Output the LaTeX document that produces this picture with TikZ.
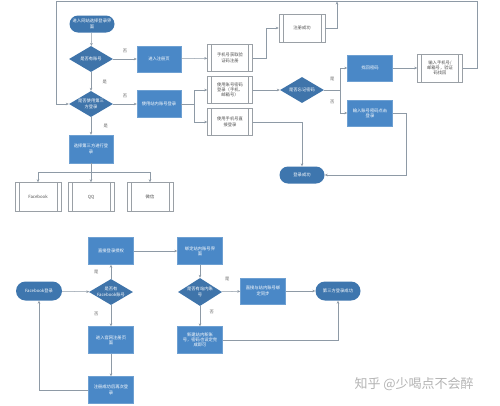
\documentclass[tikz,border=0pt]{standalone}
\usepackage{fontspec}
\setmainfont{Noto Sans CJK SC}
\usetikzlibrary{shapes.geometric,arrows.meta,calc}
\definecolor{boxblue}{HTML}{4A88C7}
\definecolor{diablue}{HTML}{3F74AA}
\definecolor{termblue}{HTML}{3E76AE}
\definecolor{linegray}{HTML}{8E9AA6}
\definecolor{subgray}{HTML}{9AA0A6}
\definecolor{wmgray}{HTML}{B4B4B4}
\tikzset{
  every node/.style={font=\fontsize{4.3}{5.3}\selectfont, align=center},
  procbox/.style={rectangle, fill=boxblue, draw=boxblue!80!white, text=white, minimum width=45pt, minimum height=27pt, inner sep=1pt},
  subbox/.style={rectangle, fill=white, draw=subgray, line width=0.5pt, text=black!70, minimum width=45pt, minimum height=27pt, inner sep=1pt,
    path picture={
      \draw[subgray, line width=0.5pt] ([xshift=4pt]path picture bounding box.north west) -- ([xshift=4pt]path picture bounding box.south west);
      \draw[subgray, line width=0.5pt] ([xshift=-4pt]path picture bounding box.north east) -- ([xshift=-4pt]path picture bounding box.south east);
    }},
  termbox/.style={rectangle, rounded corners=8.5pt, fill=termblue, text=white, minimum width=45pt, minimum height=17pt, inner sep=1pt},
  diabox/.style={diamond, fill=diablue, minimum width=44pt, minimum height=26pt, inner sep=0pt},
  diatext/.style={text=white},
  conn/.style={draw=linegray, line width=0.5pt},
  arr/.style={conn, -{Stealth[length=3pt,width=2.6pt]}},
  lab/.style={text=black!60, font=\fontsize{4.3}{5}\selectfont},
}
\begin{document}
\begin{tikzpicture}[x=1pt,y=-1pt]
\useasboundingbox (0,0) rectangle (500,405);
\fill[white] (0,0) rectangle (500,405);

% ---------- top flow ----------
\node[termbox] (start) at (92,24) {进入网站选择登录界\\面};
\node[diabox] (d1) at (91,59) {};
\node[diatext] at (d1) {是否有账号};
\node[procbox, minimum width=44pt, minimum height=26pt] (reg) at (159,59) {进入注册页};
\node[subbox] (sub1) at (230,58) {手机号获取验\\证码注册};
\node[subbox, minimum width=46pt, minimum height=28pt] (regok) at (302,28) {注册成功};
\node[diabox] (d2) at (91,104) {};
\node[diatext] at (d2) {是否使用第三\\方登录};
\node[procbox, minimum width=44pt] (inner) at (159,104) {使用站内账号登录};
\node[subbox] (sub2) at (230,90) {使用账号密码\\登录（手机、\\邮箱号）};
\node[subbox] (sub3) at (230,122) {使用手机号直\\接登录};
\node[diabox] (d3) at (302,90) {};
\node[diatext] at (d3) {是否忘记密码};
\node[procbox, minimum height=26pt] (find) at (370,68) {找回密码};
\node[subbox, minimum height=28pt] (sub4) at (440,68) {输入手机号/\\邮箱号，验证\\码找回};
\node[procbox, minimum height=26pt] (input) at (370,113) {输入账号密码点击\\登录};
\node[termbox] (ok) at (302,175) {登录成功};
\node[procbox, minimum width=44pt, minimum height=28pt] (third) at (91,149) {选择第三方进行登\\录};
\node[subbox, minimum width=46pt, minimum height=29pt] (fb) at (38,197) {Facebook};
\node[subbox, minimum width=46pt, minimum height=29pt] (qq) at (91,197) {QQ};
\node[subbox, minimum width=46pt, minimum height=29pt] (wx) at (150,197) {微信};

\coordinate (topL) at (56,1.5);
\coordinate (topR) at (477,1.5);
\coordinate (topM) at (337,1.5);

\draw[arr] (start) -- (d1);
\draw[arr] (d1) -- (reg) node[lab, pos=0.5, above=3pt] {否};
\draw[arr] (reg) -- (sub1);
\draw[arr] (sub1.east) -- ++(13,0) |- (regok.west);
\draw[arr] (regok.east) -| (topM);
\draw[arr] (sub4.east) -| (topR) -- (topL) |- (d2.west);
\draw[arr] (d1) -- (d2) node[lab, pos=0.5, right=8pt] {是};
\draw[arr] (d2) -- (inner) node[lab, pos=0.5, above=3pt] {否};
\coordinate (split1) at (194,104);
\draw[conn] (inner.east) -- (split1);
\draw[arr] (split1) |- (sub2.west);
\draw[arr] (split1) |- (sub3.west);
\draw[arr] (sub2) -- (d3);
\coordinate (split2) at (340,90);
\draw[conn] (d3.east) -- (split2);
\draw[arr] (split2) |- (find.west) node[lab, pos=0.25, left=2pt] {是};
\draw[arr] (split2) |- (input.west) node[lab, pos=0.25, left=2pt] {否};
\draw[arr] (find) -- (sub4);
\draw[arr] (sub3.east) -| (ok.north);
\draw[arr] (input.east) -- ++(14,0) |- (ok.east);
\draw[arr] (d2) -- (third) node[lab, pos=0.5, right=9pt] {是};
\draw[arr] (third.south) -- ++(0,9) -| (fb.north);
\draw[arr] (third.south) -- (qq.north);
\draw[arr] (third.south) -- ++(0,9) -| (wx.north);

% ---------- bottom flow ----------
\node[termbox, minimum width=46pt, minimum height=19pt, rounded corners=9.5pt] (fblogin) at (39,291) {Facebook登录};
\node[diabox] (d4) at (111,292) {};
\node[diatext] at (d4) {是否有\\Facebook账号};
\node[procbox] (auth) at (111,251) {直接登录授权};
\node[procbox] (offreg) at (111,340) {进入官网注册页\\面};
\node[procbox] (again) at (111,390) {注册成功后再次登\\录};
\node[procbox] (bind) at (200,251) {绑定站内账号界\\面};
\node[diabox, minimum height=28pt] (d5) at (200,292) {};
\node[diatext] at (d5) {是否有站内账\\号};
\node[procbox, minimum height=26pt] (sync) at (263,291) {直接与站内账号绑\\定同步};
\node[procbox] (newacc) at (200,340) {新建站内新账\\号，密码也设定完\\成即可};
\node[termbox, minimum width=45pt, minimum height=19pt, rounded corners=9.5pt] (tok) at (338,291) {第三方登录成功};

\draw[arr] (fblogin) -- (d4);
\draw[arr] (d4) -- (auth) node[lab, pos=0.5, left=9pt] {是};
\draw[arr] (d4) -- (offreg) node[lab, pos=0.4, left=9pt] {否};
\draw[arr] (offreg) -- (again);
\draw[arr] (again.west) -| (fblogin.south);
\draw[arr] (auth) -- (bind);
\draw[arr] (bind) -- (d5);
\draw[arr] (d5) -- (sync) node[lab, pos=0.3, above=7pt] {是};
\draw[arr] (d5) -- (newacc) node[lab, pos=0.3, right=6pt] {否};
\draw[arr] (sync) -- (tok);
\draw[arr] (newacc.east) -| (tok.south);

% watermark
\node[anchor=west, text=wmgray, font=\fontsize{13}{14}\selectfont] (wm) at (351,384) {知乎 @少喝点不会醉};
\end{tikzpicture}
\end{document}
